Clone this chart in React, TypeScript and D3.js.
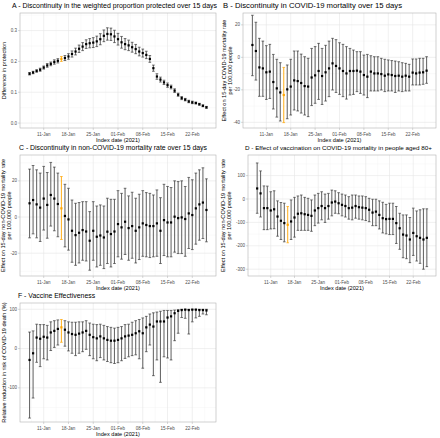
import React from "react";
import * as d3 from "d3";

// ---- data ----
const START = new Date(2021, 0, 7);
const END = new Date(2021, 1, 26);
const dates: Date[] = d3.timeDay.range(START, d3.timeDay.offset(END, 1));
const HIGHLIGHT_INDEX = 9; // 16-Jan

const xTickDates = [
  new Date(2021, 0, 11), new Date(2021, 0, 18), new Date(2021, 0, 25),
  new Date(2021, 1, 1), new Date(2021, 1, 8), new Date(2021, 1, 15), new Date(2021, 1, 22),
];
const xTickLabels = ["11-Jan", "18-Jan", "25-Jan", "01-Feb", "08-Feb", "15-Feb", "22-Feb"];

// A - weighted proportion protected
const aEst = [0.160,0.164,0.169,0.173,0.180,0.187,0.192,0.198,0.202,0.208,0.211,0.216,0.224,0.232,0.241,0.248,0.256,0.259,0.261,0.265,0.272,0.283,0.289,0.288,0.281,0.272,0.262,0.256,0.252,0.246,0.240,0.232,0.227,0.221,0.208,0.178,0.151,0.141,0.132,0.123,0.117,0.105,0.092,0.081,0.076,0.070,0.067,0.065,0.061,0.056,0.051];
const aLo = [0.156,0.160,0.165,0.168,0.175,0.181,0.186,0.191,0.195,0.200,0.203,0.207,0.214,0.221,0.229,0.235,0.242,0.244,0.245,0.248,0.254,0.264,0.269,0.268,0.261,0.253,0.243,0.238,0.235,0.230,0.225,0.218,0.214,0.209,0.197,0.168,0.142,0.133,0.125,0.116,0.111,0.099,0.087,0.076,0.072,0.066,0.063,0.062,0.058,0.053,0.048];
const aHi = [0.164,0.168,0.173,0.178,0.185,0.193,0.198,0.205,0.209,0.216,0.219,0.225,0.234,0.243,0.253,0.261,0.270,0.274,0.277,0.282,0.290,0.302,0.309,0.308,0.301,0.291,0.281,0.274,0.269,0.262,0.255,0.246,0.240,0.233,0.219,0.188,0.160,0.149,0.139,0.130,0.123,0.111,0.097,0.086,0.080,0.074,0.071,0.068,0.064,0.059,0.054];

// B - COVID-19 mortality
const bEst = [7.6,3.9,-6.2,-6.8,-9.2,-8.8,-15.2,-19.1,-21.6,-23.2,-19.7,-18,-14.2,-14.6,-15.8,-17.7,-18,-12.4,-11.1,-8.4,-11.5,-9.2,-6.8,-3.7,-5.3,-6.8,-8.4,-9.9,-8.4,-8.4,-8.2,-8.8,-10.9,-11.9,-8.8,-9.9,-9.9,-10.3,-11.3,-10.5,-10.9,-11.5,-11.3,-11.9,-11.3,-11.9,-9.4,-9.9,-9.4,-9.2,-8.2];
const bLo = [-11.3,-14,-24,-24,-25.9,-25.3,-31.8,-36.8,-39.2,-40.2,-37.8,-35.5,-32.4,-33,-34.3,-35.5,-36.5,-29.7,-28.3,-25.9,-29,-26.9,-24.2,-20.1,-21.6,-22.8,-24.2,-25.7,-23.2,-22.8,-21.1,-22.2,-23.2,-24.8,-20.7,-20.7,-20.7,-20.1,-21.1,-20.7,-20.7,-21.6,-20.7,-21.1,-20.7,-20.7,-17,-17,-17,-16.6,-16];
const bHi = [25.9,21.6,11.7,10,7.2,8,1.8,-1.2,-3.3,-6.2,-4.7,-1.2,3.9,3.9,2,0.4,-0.6,5.5,6.6,8.6,5.5,7.4,10,11.7,10.9,9,8,6.6,5.5,4.5,3.5,3.5,1.4,1.8,1,0.4,0.4,-0.6,-1.2,-1.6,-2,-2.3,-2.7,-3.3,-3.7,-4.3,-1,-1,-0.6,-0.6,0.4];

// C - non-COVID-19 mortality
const cEst = [7.6,9.4,7,5.2,10.2,6.7,12.2,10.2,7.2,4.8,0.6,-1.3,-7.6,-10,-8.7,-7.2,-8,-13.1,-7.6,-10.9,-10.2,-11.3,-8.1,-9.4,-8,-3.9,-5.7,-2.6,-6.1,-5,-7.6,-5.7,-3.5,-4.4,-5,-5,-3.5,-7.6,-1.7,-3,-3,0.2,-0.6,-0.2,-1.1,2,1.1,4.8,7,8,3.9];
const cHi = [26.5,28.5,26.1,24.3,28,24.6,30.2,27.6,24.3,22.4,18.1,15.9,9.4,7.6,8,8.5,8.5,3,8.5,6.1,6.7,6.1,10.4,9.8,9.8,14.6,13.1,15.9,11.7,13.7,10.4,12.6,14.6,13.5,13.1,12.2,15,10.7,18.1,16.9,16.3,20,19.6,20,16.9,21.9,20.6,24.3,26.1,27.2,21.1];
const cLo = [-11.5,-9.3,-11.5,-13.5,-7.2,-11.7,-5,-7.6,-10.9,-12.4,-16.5,-18.3,-25,-26.7,-25.4,-23.9,-24.3,-29.4,-23.9,-27.6,-26.7,-28.5,-25.7,-27.6,-25.7,-22,-23.3,-20.7,-23.9,-22.8,-25.4,-23.5,-21.7,-22,-22.4,-22,-21.7,-25.7,-21.3,-22,-22,-19.4,-20.2,-20.2,-21.7,-17.4,-18,-15,-12.8,-11.9,-13.7];

// D - vaccination effect on COVID-19 mortality, aged 80+
const dEst = [45,24,-39,-39,-49,-44,-75,-93,-103,-110,-96,-79,-63,-61,-65,-68,-72,-49,-39,-30,-39,-30,-15,-11,-18,-25,-30,-39,-37,-30,-35,-37,-39,-46,-58,-54,-68,-82,-86,-85,-85,-103,-125,-152,-156,-173,-145,-159,-166,-173,-166];
const dHi = [154,120,56,55,31,35,-8,-15,-18,-32,-4,7,13,17,7,3,-4,17,24,31,21,24,38,35,27,21,17,10,17,17,13,13,10,3,-1,-1,-8,-14,-23,-18,-18,-32,-61,-68,-68,-79,-39,-51,-46,-42,-42];
const dLo = [-61,-77,-131,-131,-128,-127,-159,-173,-183,-187,-173,-163,-134,-134,-134,-134,-138,-114,-103,-89,-100,-86,-72,-61,-63,-72,-77,-86,-89,-82,-86,-89,-92,-97,-114,-114,-128,-145,-149,-152,-152,-190,-215,-251,-255,-272,-241,-265,-275,-300,-289];

// F - vaccine effectiveness
const fEst = [-29,-12,28,25,30,28,41,45,50,54,48,41,37,35,38,41,45,35,29,26,31,26,22,20,20,22,26,31,33,35,39,44,39,54,61,56,69,69,69,79,82,90,96,98,99,98,99,99,98,98,97];
const fHi = [42,45,62,61,61,59,68,71,73,74,71,68,67,67,68,68,71,65,62,61,62,59,56,54,52,54,56,61,62,67,71,74,78,82,88,91,93,95,97,97,97,98,99,100,100,100,100,100,100,100,100];
const fLo = [-177,-126,-35,-46,-26,-29,-5,3,9,16,6,-6,-12,-18,-12,-8,-2,-18,-26,-31,-23,-29,-33,-36,-38,-36,-31,-25,-21,-18,-16,-26,-50,-8,9,-69,-29,-86,-21,-24,-29,20,39,79,77,37,68,78,82,88,86];

const titles = [
  "A - Discontinuity in the  weighted proportion protected over 15 days",
  "B - Discontinuity in COVID-19 mortality  over 15 days",
  "C - Discontinuity in non-COVID-19 mortality rate over 15 days",
  "D - Effect of vaccination on COVID-19 mortality in people aged 80+",
  "F - Vaccine Effectiveness",
];
const xAxisTitle = "Index date (2021)";

// ---- layout ----
const FONT = "'Liberation Sans', Arial, Helvetica, sans-serif";
const DAY = 24 * 3600 * 1000;
const PAD_DAYS = 2.7;

type PanelSpec = {
  est: number[]; lo: number[]; hi: number[];
  title: string; titleX: number; titleLen?: number; titleSize: number;
  yTitle: string[]; yTitleX: number[];
  yTicks: number[]; yTickFmt: (v: number) => string; yDomain: [number, number];
  left: number; right: number; top: number; bottom: number;
};

const panels: PanelSpec[] = [
  {
    est: aEst, lo: aLo, hi: aHi, title: titles[0], titleX: 12, titleLen: 205, titleSize: 6.9,
    yTitle: ["Difference in protection"], yTitleX: [4],
    yTicks: [0, 0.1, 0.2, 0.3], yTickFmt: (v) => v.toFixed(1), yDomain: [-0.016, 0.357],
    left: 20, right: 216, top: 13, bottom: 128,
  },
  {
    est: bEst, lo: bLo, hi: bHi, title: titles[1], titleX: 223, titleLen: 179, titleSize: 6.9,
    yTitle: ["Effect on 15-day COVID-19 mortality rate", "per 100,000 people"], yTitleX: [224, 230],
    yTicks: [-40, -20, 0, 20], yTickFmt: (v) => String(v), yDomain: [-43.5, 27.3],
    left: 243, right: 436, top: 13, bottom: 128,
  },
  {
    est: cEst, lo: cLo, hi: cHi, title: titles[2], titleX: 19, titleLen: 188, titleSize: 6.9,
    yTitle: ["Effect on 15-day non-COVID-19 mortality rate", "per 100,000 people"], yTitleX: [3, 9],
    yTicks: [-20, 0, 20], yTickFmt: (v) => String(v), yDomain: [-32.6, 34.3],
    left: 20, right: 216, top: 155, bottom: 276,
  },
  {
    est: dEst, lo: dLo, hi: dHi, title: titles[3], titleX: 245, titleLen: 187, titleSize: 6.2,
    yTitle: ["Effect on 15-day non-COVID-19 mortality rate", "per 100,000 people"], yTitleX: [223, 229],
    yTicks: [-300, -200, -100, 0, 100], yTickFmt: (v) => String(v), yDomain: [-329, 188],
    left: 248, right: 436, top: 155, bottom: 276,
  },
  {
    est: fEst, lo: fLo, hi: fHi, title: titles[4], titleX: 18, titleSize: 6.9,
    yTitle: ["Relative reduction in risk of COVID-19 death (%)"], yTitleX: [4],
    yTicks: [-100, 0, 100], yTickFmt: (v) => String(v), yDomain: [-187, 116],
    left: 20, right: 216, top: 303, bottom: 422,
  },
];

function Panel({ p, idx }: { p: PanelSpec; idx: number }) {
  const x = d3.scaleTime()
    .domain([new Date(+START - PAD_DAYS * DAY), new Date(+END + PAD_DAYS * DAY)])
    .range([p.left, p.right]);
  const y = d3.scaleLinear().domain(p.yDomain).range([p.bottom, p.top]);
  const pxPerDay = (p.right - p.left) / ((+END - +START) / DAY + 2 * PAD_DAYS);
  const capHalf = pxPerDay * 0.38;

  const xMinor: Date[] = [];
  for (let i = -1; i < xTickDates.length; i++) {
    const a = i < 0 ? +xTickDates[0] - 7 * DAY : +xTickDates[i];
    const m = new Date(a + 3.5 * DAY);
    if (+m >= +x.domain()[0] && +m <= +x.domain()[1]) xMinor.push(m);
  }
  const step = p.yTicks[1] - p.yTicks[0];
  const yMinor: number[] = [];
  for (let i = -1; i < p.yTicks.length; i++) {
    const m = (i < 0 ? p.yTicks[0] - step : p.yTicks[i]) + step / 2;
    if (m >= p.yDomain[0] && m <= p.yDomain[1]) yMinor.push(m);
  }
  const clipId = `clip${idx}`;
  const cy = (p.top + p.bottom) / 2;
  const cx = (p.left + p.right) / 2;

  return (
    <g>
      <defs>
        <clipPath id={clipId}>
          <rect x={p.left} y={p.top} width={p.right - p.left} height={p.bottom - p.top} />
        </clipPath>
      </defs>
      <rect x={p.left} y={p.top} width={p.right - p.left} height={p.bottom - p.top} fill="#fff" />
      <g clipPath={`url(#${clipId})`}>
        {xMinor.map((d, i) => (
          <line key={"xm" + i} x1={x(d)} x2={x(d)} y1={p.top} y2={p.bottom} stroke="#f2f2f2" strokeWidth={0.4} />
        ))}
        {yMinor.map((v, i) => (
          <line key={"ym" + i} x1={p.left} x2={p.right} y1={y(v)} y2={y(v)} stroke="#f2f2f2" strokeWidth={0.4} />
        ))}
        {xTickDates.map((d, i) => (
          <line key={"xg" + i} x1={x(d)} x2={x(d)} y1={p.top} y2={p.bottom} stroke="#e6e6e6" strokeWidth={0.6} />
        ))}
        {p.yTicks.map((v, i) => (
          <line key={"yg" + i} x1={p.left} x2={p.right} y1={y(v)} y2={y(v)} stroke="#e6e6e6" strokeWidth={0.6} />
        ))}
        {dates.map((d, i) => {
          const hl = i === HIGHLIGHT_INDEX;
          const col = hl ? "#FFA500" : "#3a3a3a";
          const xx = x(d);
          return (
            <g key={"e" + i}>
              <line x1={xx} x2={xx} y1={y(p.lo[i])} y2={y(p.hi[i])} stroke={hl ? col : "#6b6b6b"} strokeWidth={hl ? 0.9 : 1.1} />
              <line x1={xx - capHalf} x2={xx + capHalf} y1={y(p.lo[i])} y2={y(p.lo[i])} stroke={col} strokeWidth={0.7} />
              <line x1={xx - capHalf} x2={xx + capHalf} y1={y(p.hi[i])} y2={y(p.hi[i])} stroke={col} strokeWidth={0.7} />
              <rect x={xx - 1.1} y={y(p.est[i]) - 1.1} width={2.2} height={2.2} fill={hl ? "#FFA500" : "#000"} />
            </g>
          );
        })}
      </g>
      <rect x={p.left} y={p.top} width={p.right - p.left} height={p.bottom - p.top} fill="none" stroke="#b3b3b3" strokeWidth={0.6} />
      {p.yTicks.map((v, i) => (
        <g key={"yt" + i}>
          <line x1={p.left - 2} x2={p.left} y1={y(v)} y2={y(v)} stroke="#b3b3b3" strokeWidth={0.5} />
          <text x={p.left - 3} y={y(v)} dy="0.35em" textAnchor="end" fontSize={4.5} fill="#4d4d4d" fontFamily={FONT}>
            {p.yTickFmt(v)}
          </text>
        </g>
      ))}
      {xTickDates.map((d, i) => (
        <g key={"xt" + i}>
          <line x1={x(d)} x2={x(d)} y1={p.bottom} y2={p.bottom + 2} stroke="#b3b3b3" strokeWidth={0.5} />
          <text x={x(d)} y={p.bottom + 8.3} textAnchor="middle" fontSize={4.5} fill="#4d4d4d" fontFamily={FONT}>
            {xTickLabels[i]}
          </text>
        </g>
      ))}
      <text x={cx} y={p.bottom + 14.2} textAnchor="middle" fontSize={5.6} fill="#000" fontFamily={FONT}>
        {xAxisTitle}
      </text>
      {p.yTitle.map((t, i) => (
        <text key={"ytl" + i} transform={`translate(${p.yTitleX[i] + 2},${cy}) rotate(-90)`} textAnchor="middle"
          fontSize={5.6} fill="#000" fontFamily={FONT}>
          {t}
        </text>
      ))}
      <text x={p.titleX} y={p.top - 5.5} fontSize={p.titleSize} fill="#000" fontFamily={FONT}
        {...(p.titleLen ? { textLength: p.titleLen, lengthAdjust: "spacingAndGlyphs" } : {})}>
        {p.title}
      </text>
    </g>
  );
}

export default function App() {
  return (
    <svg width={440} height={438} viewBox="0 0 440 438"
      style={{ position: "absolute", left: 0, top: 0, background: "#fff" }}>
      <rect width={440} height={438} fill="#fff" />
      {panels.map((p, i) => (
        <Panel key={i} p={p} idx={i} />
      ))}
    </svg>
  );
}
